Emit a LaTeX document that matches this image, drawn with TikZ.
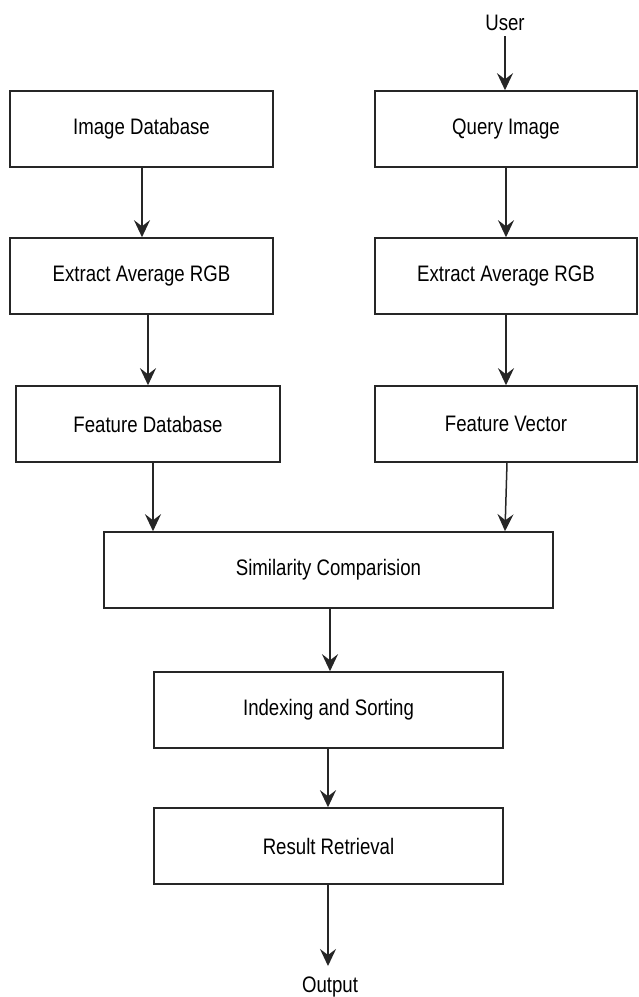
\documentclass[tikz,border=0pt]{standalone}
\usepackage{fontspec}
\setmainfont{Liberation Sans}
\usepackage{graphicx}
\usepackage{tikz}
\usetikzlibrary{positioning,calc,arrows.meta}
\newcommand{\tallt}[1]{\scalebox{0.98}[1.18]{#1}}

\begin{document}
\begin{tikzpicture}[x=1pt,y=-1pt,
  blk/.style={draw=black!85, line width=1.6pt, minimum height=76pt, inner sep=0pt,
    font=\fontsize{19}{22}\selectfont},
  lbl/.style={inner sep=0pt, font=\fontsize{19}{22}\selectfont},
  arr/.style={line width=1.5pt, draw=black!85, -{Stealth[length=17pt,width=16pt,inset=6pt]}}]
  \useasboundingbox (0,0) rectangle (638,997);

  % Nodes
  \node[lbl] (user) at (505,23) {\tallt{User}};
  \node[blk, minimum width=263pt] (imgdb) at (141.5,129) {\tallt{Image Database}};
  \node[blk, minimum width=262pt] (query) at (506,129) {\tallt{Query Image}};
  \node[blk, minimum width=263pt] (extL) at (141.5,276) {\tallt{Extract Average RGB}};
  \node[blk, minimum width=262pt] (extR) at (506,276) {\tallt{Extract Average RGB}};
  \node[blk, minimum width=264pt] (featdb) at (148,424) {\tallt{Feature Database}};
  \node[blk, minimum width=262pt] (featvec) at (506,424) {\tallt{Feature Vector}};
  \node[blk, minimum width=449pt] (simil) at (328.5,570) {\tallt{Similarity Comparision}};
  \node[blk, minimum width=349pt] (index) at (328.5,710) {\tallt{Indexing and Sorting}};
  \node[blk, minimum width=349pt] (result) at (328.5,846) {\tallt{Result Retrieval}};
  \node[lbl] (output) at (330,987) {\tallt{Output}};

  % Arrows
  \draw[arr] (user.south |- 0,36) -- (user.south |- query.north);
  \draw[arr] ([xshift=0.5pt]imgdb.south) -- ([xshift=0.5pt]extL.north);
  \draw[arr] (query.south) -- (extR.north);
  \draw[arr] (featdb.north |- extL.south) -- (featdb.north);
  \draw[arr] (extR.south) -- (featvec.north);
  \draw[arr] ([xshift=5pt]featdb.south) -- ([xshift=5pt]featdb.south |- simil.north);
  \draw[arr] ([xshift=1pt]featvec.south) -- ([xshift=-1pt]featvec.south |- simil.north);
  \draw[arr] ([xshift=1.5pt]simil.south) -- ([xshift=1.5pt]index.north);
  \draw[arr] ([xshift=-0.5pt]index.south) -- ([xshift=-0.5pt]result.north);
  \draw[arr] ([xshift=-0.5pt]result.south) -- ([xshift=-0.5pt]result.south |- 0,966);
\end{tikzpicture}
\end{document}
